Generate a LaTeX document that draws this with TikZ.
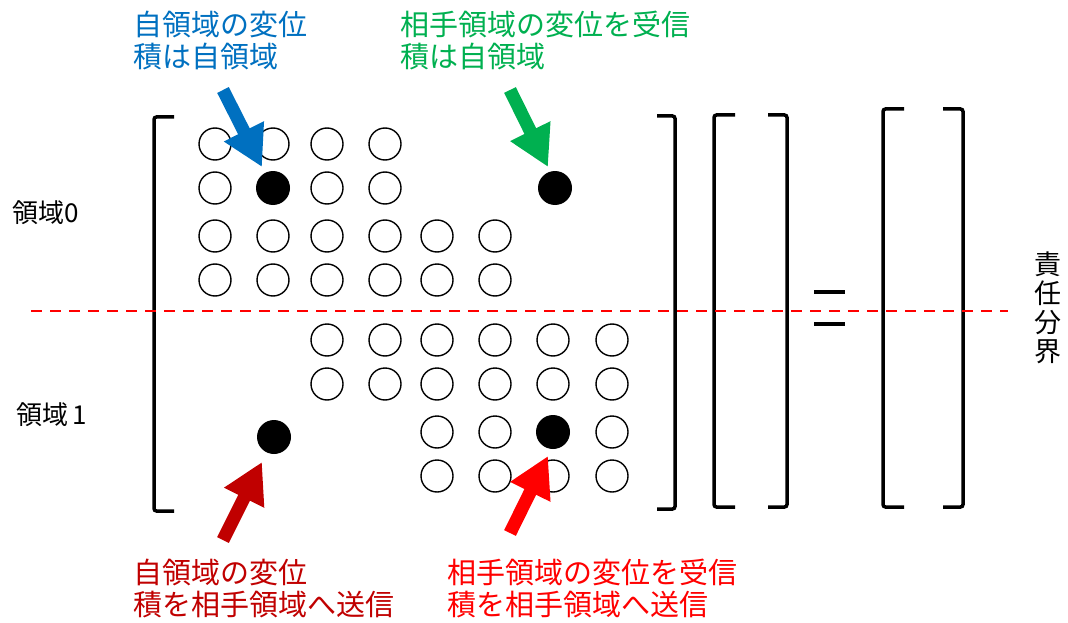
\documentclass[tikz,border=0pt]{standalone}
\usepackage{fontspec}
\newfontfamily\cjk{Noto Sans CJK JP}
\usetikzlibrary{arrows.meta}
\definecolor{myblue}{RGB}{0,112,192}
\definecolor{mygreen}{RGB}{0,176,80}
\definecolor{mydarkred}{RGB}{192,0,0}
\definecolor{mybrightred}{RGB}{255,0,0}
\begin{document}
\begin{tikzpicture}[x=1pt,y=-1pt,
  dot/.style={circle, draw=black, line width=1.4pt, minimum size=32pt, inner sep=0pt},
  fulldot/.style={circle, fill=black, minimum size=34pt, inner sep=0pt},
  brk/.style={line width=3.5pt, rounded corners=2.5pt},
  blockarrow/.style={line width=13pt, -{Triangle[length=40pt,width=42pt]}},
  lbl/.style={font=\cjk\fontsize{29}{33}\selectfont, inner sep=0pt, anchor=west},
  side/.style={font=\cjk\fontsize{26}{29}\selectfont, inner sep=0pt, anchor=west},
  bound/.style={red, line width=2.5pt, dash pattern=on 11pt off 8pt}
]
\useasboundingbox (0,0) rectangle (1068,623);

% circles
\def\cx#1{\ifcase#1\or215\or273\or327\or385\or437\or495\or553\or612\fi}
\def\ry#1{\ifcase#1\or144\or188\or236\or280\or340\or384\or432\or476\fi}
\foreach \c in {1,...,4} \node[dot] (c-1-\c) at (\cx{\c},\ry{1}) {};
\foreach \c in {1,3,4} \node[dot] (c-2-\c) at (\cx{\c},\ry{2}) {};
\foreach \r in {3,4} \foreach \c in {1,...,6} \node[dot] (c-\r-\c) at (\cx{\c},\ry{\r}) {};
\foreach \r in {5,6} \foreach \c in {3,...,8} \node[dot] (c-\r-\c) at (\cx{\c},\ry{\r}) {};
\foreach \c in {5,6,8} \node[dot] (c-7-\c) at (\cx{\c},\ry{7}) {};
\foreach \c in {5,...,8} \node[dot] (c-8-\c) at (\cx{\c},\ry{8}) {};
% filled circles
\node[fulldot] (own0) at (273,188) {};
\node[fulldot] (recv0) at (555,188) {};
\node[fulldot] (own1) at (274,437) {};
\node[fulldot] (recv1) at (553,432) {};

% brackets
\draw[brk] (174,117) -- (154,117) -- (154,511) -- (174,511);
\draw[brk] (657,116) -- (675,116) -- (675,509) -- (657,509);
\draw[brk] (735,115) -- (714,115) -- (714,507) -- (735,507);
\draw[brk] (768,115) -- (787,115) -- (787,507) -- (768,507);
\draw[brk] (904,109) -- (883,109) -- (883,507) -- (904,507);
\draw[brk] (943,109) -- (963,109) -- (963,507) -- (943,507);

% equals sign
\draw[line width=4.5pt] (814,292) -- (845,292);
\draw[line width=4.5pt] (814,324) -- (845,324);

% side labels
\node[side] (r0) at (12,213) {領域0};
\node[side] (r1) at (16,415) {領域\hspace{4pt}1};
\node[font=\cjk\fontsize{27}{29}\selectfont, align=center, inner sep=0pt] (bd) at (1048,308) {責\\任\\分\\界};

% callout texts
\node[lbl, text=myblue] (tb1) at (133,24) {自領域の変位};
\node[lbl, text=myblue] (tb2) at (133,57) {積は自領域};
\node[lbl, text=mygreen] (tg1) at (400,24) {相手領域の変位を受信};
\node[lbl, text=mygreen] (tg2) at (400,57) {積は自領域};
\node[lbl, text=mydarkred] (td1) at (133,572) {自領域の変位};
\node[lbl, text=mydarkred] (td2) at (133,605) {積を相手領域へ送信};
\node[lbl, text=mybrightred] (tr1) at (447,572) {相手領域の変位を受信};
\node[lbl, text=mybrightred] (tr2) at (447,605) {積を相手領域へ送信};

% block arrows
\coordinate (ab0) at (223,90);  \coordinate (ab1) at (262,167);
\coordinate (ag0) at (510,90);  \coordinate (ag1) at (548,167);
\coordinate (ad0) at (223,540); \coordinate (ad1) at (262,462);
\coordinate (ar0) at (510,533); \coordinate (ar1) at (548,456);
\draw[blockarrow, myblue] (ab0) -- (ab1);
\draw[blockarrow, mygreen] (ag0) -- (ag1);
\draw[blockarrow, mydarkred] (ad0) -- (ad1);
\draw[blockarrow, mybrightred] (ar0) -- (ar1);

% boundary line
\coordinate (bl0) at (31,311); \coordinate (bl1) at (1008,311);
\draw[bound] (bl0) -- (bl1);
\end{tikzpicture}
\end{document}
